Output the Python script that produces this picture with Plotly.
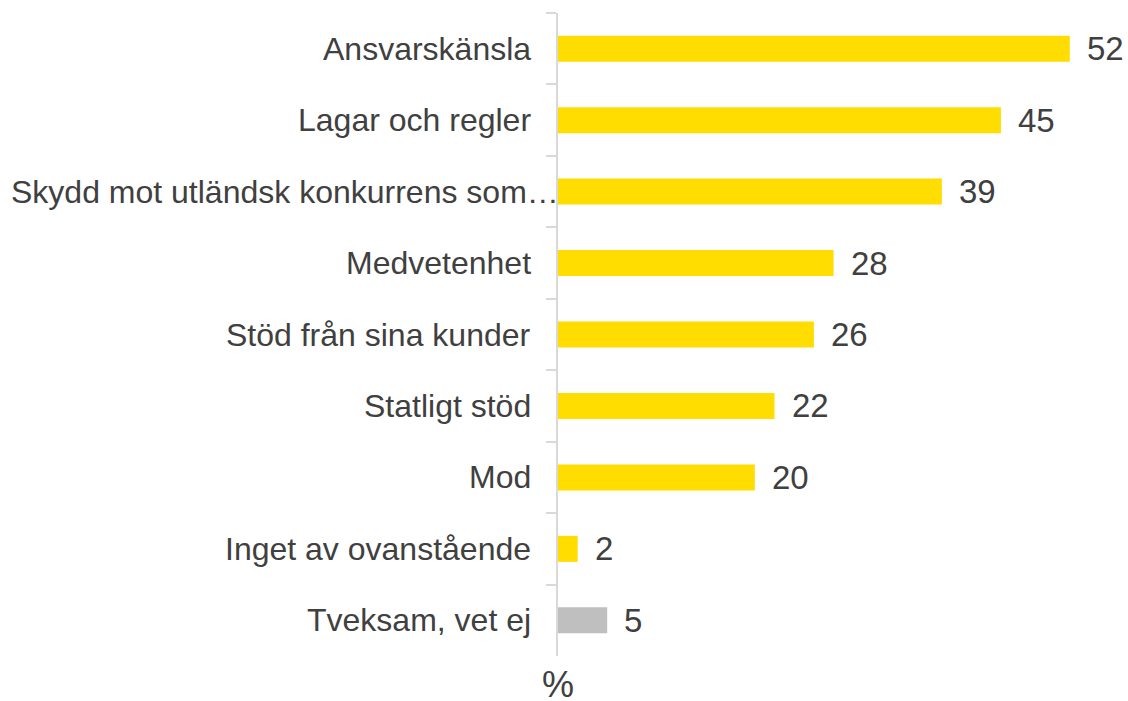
import plotly.graph_objects as go

categories = ["Ansvarskänsla", "Lagar och regler", "Skydd mot utländsk konkurrens som…",
              "Medvetenhet", "Stöd från sina kunder", "Statligt stöd", "Mod",
              "Inget av ovanstående", "Tveksam, vet ej"]
values = [52, 45, 39, 28, 26, 22, 20, 2, 5]
bar_colors = ["#FFDD00"] * 8 + ["#BFBFBF"]

font_family = "Liberation Sans, Arial, sans-serif"
text_color = "#404040"

fig = go.Figure()
fig.add_trace(go.Bar(
    x=values, y=categories, orientation="h",
    marker=dict(color=bar_colors, line=dict(width=0)),
    hoverinfo="skip",
))

# value labels
for v, c in zip(values, categories):
    fig.add_annotation(x=v, y=c, text=str(v), showarrow=False, xanchor="left",
                       xshift=15, font=dict(size=33, color=text_color, family=font_family))

# category labels (truncated label fills the available space up to the axis)
for c in categories:
    shift = 3 if c.endswith("…") else -25
    fig.add_annotation(x=0, xref="paper", y=c, yref="y", text=c, showarrow=False,
                       xanchor="right", xshift=shift,
                       font=dict(size=32, color=text_color, family=font_family))

fig.add_annotation(x=0, y=0, xref="paper", yref="paper", text="%", showarrow=False,
                   xanchor="center", yanchor="top", yshift=-6,
                   font=dict(size=36, color=text_color, family=font_family))

fig.update_layout(
    width=1128, height=701,
    margin=dict(l=558, r=8, t=13, b=45),
    paper_bgcolor="white", plot_bgcolor="white",
    bargap=0.636, showlegend=False,
    font=dict(family=font_family, color=text_color),
)
fig.update_xaxes(range=[0, 57.1], visible=False, fixedrange=True)
fig.update_yaxes(
    autorange="reversed", type="category",
    showline=True, linecolor="#D9D9D9", linewidth=2,
    ticks="outside", tickson="boundaries", ticklen=10, tickcolor="#D9D9D9", tickwidth=2,
    showticklabels=False,
    showgrid=False, zeroline=False, automargin=False,
)

fig.write_html("out.html", config={"displayModeBar": False},
               post_script="document.body.style.margin='0';document.body.style.overflow='hidden';")
